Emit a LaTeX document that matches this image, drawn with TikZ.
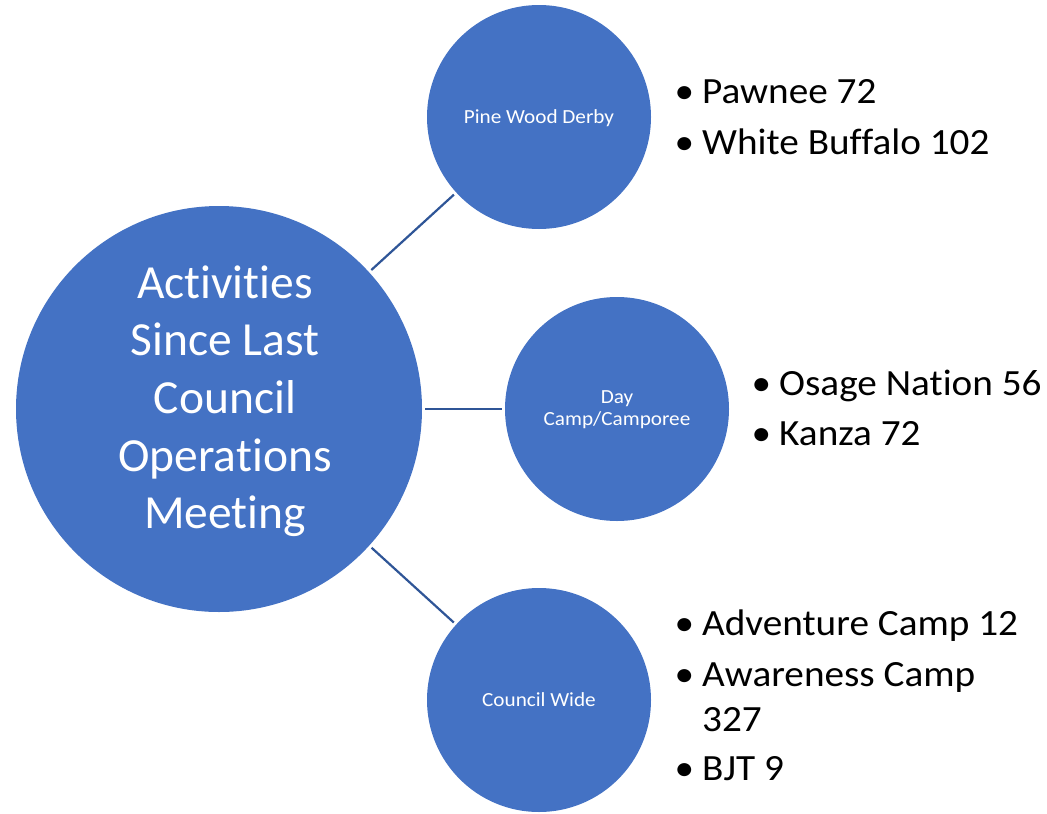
\documentclass[tikz,border=0pt]{standalone}
\usepackage{fontspec}
\setmainfont{Carlito}[Ligatures=NoCommon]
\newfontfamily\widefont{Carlito}[Ligatures=NoCommon, FakeStretch=1.06]
\definecolor{circfill}{HTML}{4472C4}
\definecolor{connc}{HTML}{2F5597}
\newcommand\bul{\llap{•\hspace{8pt}}}
\begin{document}
\begin{tikzpicture}[x=1pt,y=-1pt,
  bubble/.style={circle, fill=circfill, draw=none, inner sep=0pt},
  conn/.style={draw=connc, line width=2.2pt, shorten >=3pt, shorten <=3pt},
  maintxt/.style={text=white, font=\fontsize{47.5}{57}\selectfont, anchor=base, inner sep=0pt},
  smalltxt/.style={text=white, font=\widefont\fontsize{20}{23}\selectfont, anchor=base, inner sep=0pt},
  item/.style={text=black, font=\widefont\fontsize{37}{44}\selectfont, anchor=base west, inner sep=0pt}]
\useasboundingbox (0,0) rectangle (1047,814);
\fill[white] (0,0) rectangle (1047,814);
% circles
\node[bubble, minimum size=406pt] (main) at (219,409) {};
\node[bubble, minimum size=224pt] (pine) at (539,117) {};
\node[bubble, minimum size=224pt] (day) at (617,409) {};
\node[bubble, minimum size=224pt] (council) at (539,700) {};
% connectors
\draw[conn] (main) -- (pine);
\draw[conn] (main) -- (day);
\draw[conn] (main) -- (council);
% main text
\node[maintxt] (m1) at (225,298) {Activities};
\node[maintxt] (m2) at (225,355.5) {Since Last};
\node[maintxt] (m3) at (225,413.3) {Council};
\node[maintxt] (m4) at (225,471) {Operations};
\node[maintxt] (m5) at (225,528.8) {Meeting};
% circle labels
\node[smalltxt] (pinet) at (539,123.3) {Pine Wood Derby};
\node[smalltxt] (dayt1) at (617,403) {Day};
\node[smalltxt] (dayt2) at (617,425.7) {Camp/Camporee};
\node[smalltxt] (councilt) at (539,706) {Council Wide};
% bullet lists
\node[item] (i1) at (702,103.3) {\bul Pawnee 72};
\node[item] (i2) at (702,154) {\bul White Buffalo 102};
\node[item] (i3) at (779,395) {\bul Osage Nation 56};
\node[item] (i4) at (779,445) {\bul Kanza 72};
\node[item] (i5) at (702,635) {\bul Adventure Camp 12};
\node[item] (i6) at (702,686.7) {\bul Awareness Camp};
\node[item] (i7) at (702,731) {327};
\node[item] (i8) at (702,780) {\bul BJT 9};
\end{tikzpicture}
\end{document}
